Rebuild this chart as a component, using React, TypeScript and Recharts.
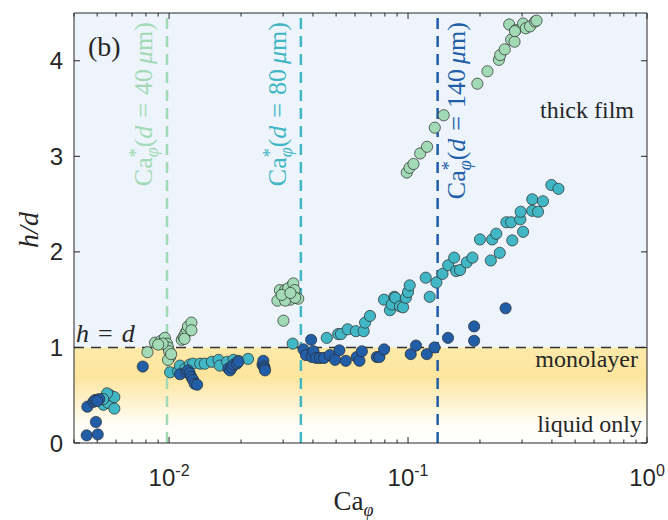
import React from 'react';
import { ScatterChart, Scatter, XAxis, YAxis, ReferenceLine, ReferenceArea } from 'recharts';

const GREEN = '#a1dab4';
const CYAN = '#41b6c4';
const BLUE = '#225ea8';
const INK = '#262626';
const SERIF = '"Liberation Serif", "Times New Roman", serif';
const SANS = '"Liberation Sans", Arial, sans-serif';

// d = 40 µm
const d40Ca = [0.00812, 0.00873, 0.00926, 0.0096, 0.0098, 0.0099, 0.01, 0.0101, 0.0099, 0.0094, 0.009, 0.0102,
  0.0113, 0.0115, 0.0117, 0.0119, 0.012, 0.0124, 0.0124, 0.0116,
  0.0291, 0.0284, 0.0306, 0.0315, 0.0331, 0.0335, 0.0347, 0.0321, 0.0306, 0.0337, 0.0296, 0.0322, 0.0301,
  0.0988, 0.1014, 0.1054, 0.1124, 0.1201, 0.1294, 0.141, 0.195, 0.215, 0.24, 0.243, 0.254, 0.27, 0.279, 0.265,
  0.282, 0.303, 0.311, 0.324, 0.34, 0.345, 0.28];
const d40H = [0.95, 1.05, 1.07, 1.1, 1.04, 1.0, 0.96, 0.9, 0.87, 1.04, 1.03, 0.93,
  1.08, 1.11, 1.15, 1.18, 1.22, 1.26, 1.18, 1.09,
  1.6, 1.49, 1.6, 1.62, 1.67, 1.6, 1.51, 1.5, 1.49, 1.52, 1.55, 1.57, 1.28,
  2.83, 2.88, 2.92, 3.03, 3.1, 3.3, 3.43, 3.76, 3.89, 4.01, 4.06, 4.12, 4.22, 4.2, 4.38,
  4.32, 4.39, 4.34, 4.36, 4.41, 4.42, 4.31];

// d = 80 µm
const d80Ca = [0.00531, 0.00549, 0.00557, 0.00567, 0.0059, 0.0059, 0.0055, 0.0053,
  0.0101, 0.0109, 0.0111, 0.0117, 0.0122, 0.0126, 0.0135, 0.0141, 0.0151, 0.0161, 0.0163, 0.0175, 0.0186, 0.0195, 0.0214,
  0.0329, 0.0457, 0.051, 0.0524, 0.0559, 0.0605, 0.0652, 0.0661, 0.0693, 0.0793, 0.084, 0.0855, 0.0876, 0.0884,
  0.0925, 0.0953, 0.0979, 0.1, 0.1016, 0.1186, 0.1232, 0.1314, 0.1394, 0.1472, 0.156, 0.159, 0.165, 0.176, 0.186,
  0.2, 0.222, 0.225, 0.234, 0.242, 0.258, 0.27, 0.273, 0.295, 0.296, 0.303, 0.331, 0.331, 0.35, 0.367, 0.398, 0.426];
const d80H = [0.4, 0.48, 0.42, 0.5, 0.48, 0.36, 0.52, 0.46,
  0.74, 0.75, 0.81, 0.78, 0.82, 0.83, 0.83, 0.83, 0.85, 0.87, 0.81, 0.85, 0.87, 0.86, 0.88,
  1.04, 1.1, 1.14, 1.14, 1.19, 1.17, 1.17, 1.26, 1.33, 1.5, 1.39, 1.45, 1.53, 1.52,
  1.43, 1.42, 1.52, 1.58, 1.65, 1.73, 1.53, 1.68, 1.77, 1.86, 1.94, 1.8, 1.81, 1.89, 1.94,
  2.13, 1.91, 2.13, 2.19, 1.99, 2.31, 2.31, 2.12, 2.34, 2.42, 2.21, 2.55, 2.43, 2.42, 2.53, 2.7, 2.66];

// d = 140 µm
const d140Ca = [0.00452, 0.00503, 0.00494, 0.00455, 0.00482, 0.0049, 0.0051, 0.005, 0.00776,
  0.0111, 0.0118, 0.012, 0.0122, 0.0124, 0.0126, 0.0128, 0.0131,
  0.0177, 0.018, 0.0183, 0.0186, 0.0192, 0.0195, 0.0246, 0.0248, 0.025, 0.0251, 0.0252,
  0.0365, 0.0374, 0.0393, 0.0396, 0.0402, 0.0413, 0.0428, 0.0445, 0.0471, 0.0495, 0.0516, 0.0549,
  0.061, 0.0626, 0.0641, 0.074, 0.0759, 0.0794, 0.1026, 0.108, 0.1198, 0.129, 0.147, 0.189, 0.189, 0.256];
const d140H = [0.08, 0.09, 0.22, 0.38, 0.43, 0.45, 0.46, 0.44, 0.8,
  0.72, 0.74, 0.76, 0.73, 0.69, 0.66, 0.62, 0.61,
  0.78, 0.76, 0.79, 0.82, 0.83, 0.85, 0.82, 0.86, 0.8, 0.78, 0.76,
  0.98, 0.92, 1.08, 0.9, 0.96, 0.89, 0.89, 0.89, 0.92, 0.87, 0.97, 0.86,
  0.9, 0.86, 0.96, 0.9, 0.9, 0.98, 0.93, 1.02, 0.93, 1.0, 1.1, 1.22, 1.07, 1.41];

// critical capillary numbers Ca*_phi for d = 40, 80, 140 µm
const caStar = [0.0098, 0.0356, 0.133];
const caStarD = ['40', '80', '140'];
const caStarColor = [GREEN, CYAN, BLUE];
const caStarLabelDx = [-15, -15, 27];

const xTicks = [0.004, 0.005, 0.006, 0.007, 0.008, 0.009, 0.01, 0.02, 0.03, 0.04, 0.05, 0.06, 0.07, 0.08, 0.09,
  0.1, 0.2, 0.3, 0.4, 0.5, 0.6, 0.7, 0.8, 0.9, 1];
const yTicks = [0, 1, 2, 3, 4];

const toPoints = (xs: number[], ys: number[]) => xs.map((x, i) => ({ x, y: ys[i] }));
const s40 = toPoints(d40Ca, d40H);
const s80 = toPoints(d80Ca, d80H);
const s140 = toPoints(d140Ca, d140H);

const isMajor = (v: number) => Math.abs(Math.log10(v) - Math.round(Math.log10(v))) < 1e-6;

const dot = (fill: string) => (p: any) => (
  <circle cx={p.cx} cy={p.cy} r={5.6} fill={fill} stroke="#2a2a2a" strokeWidth={0.7} />
);

const BottomTick = (p: any) => {
  const v = p.payload.value;
  const major = isMajor(v);
  return (
    <g>
      <line x1={p.x} x2={p.x} y1={p.y} y2={p.y - (major ? 6 : 3.5)} stroke={INK} strokeWidth={1} />
      {major && (
        <text x={p.x} y={p.y + 43} textAnchor="middle" fontFamily={SANS} fontSize={24} fill={INK}>
          <tspan>10</tspan>
          <tspan fontSize={16} dy={-10}>{String(Math.round(Math.log10(v)))}</tspan>
        </text>
      )}
    </g>
  );
};

const TopTick = (p: any) => {
  const major = isMajor(p.payload.value);
  return <line x1={p.x} x2={p.x} y1={p.y} y2={p.y + (major ? 6 : 3.5)} stroke={INK} strokeWidth={1} />;
};

const LeftTick = (p: any) => (
  <g>
    <line x1={p.x} x2={p.x + 6} y1={p.y} y2={p.y} stroke={INK} strokeWidth={1} />
    <text x={p.x - 11} y={p.y + 8.5} textAnchor="end" fontFamily={SANS} fontSize={24} fill={INK}>
      {p.payload.value}
    </text>
  </g>
);

const RightTick = (p: any) => (
  <line x1={p.x} x2={p.x - 6} y1={p.y} y2={p.y} stroke={INK} strokeWidth={1} />
);

const CaStarLabel = (p: any) => {
  const vb = p.viewBox;
  const x = vb.x + p.dx;
  const y = vb.y + 9;
  return (
    <text transform={`translate(${x},${y}) rotate(-90)`} textAnchor="end" fill={p.color}
      fontFamily={SERIF} fontSize={26}>
      <tspan>Ca</tspan>
      <tspan fontSize={18} dy={-10}>*</tspan>
      <tspan fontSize={18} fontStyle="italic" dx={-9} dy={16}>φ</tspan>
      <tspan dy={-6}>(</tspan>
      <tspan fontStyle="italic">d</tspan>
      <tspan dx={8}>=</tspan>
      <tspan dx={8}>{p.d}</tspan>
      <tspan dx={5} fontStyle="italic">μ</tspan>
      <tspan>m)</tspan>
    </text>
  );
};

const HLineLabel = (p: any) => {
  const vb = p.viewBox;
  const x = vb.x + 2;
  const y = vb.y - 5;
  return (
    <text x={x} y={y} fontFamily={SERIF} fontSize={26} fill={INK}>
      <tspan fontStyle="italic">h</tspan>
      <tspan dx={9}>=</tspan>
      <tspan dx={9} fontStyle="italic">d</tspan>
    </text>
  );
};

const UpperLabel = (p: any) => {
  const vb = p.viewBox;
  return (
    <g>
      <text x={vb.x + 14} y={vb.y + 43} fontFamily={SERIF} fontSize={28} fill={INK}>(b)</text>
      <text x={vb.x + vb.width - 13} y={vb.y + 105} textAnchor="end" fontFamily={SERIF} fontSize={24} fill={INK}>
        thick film
      </text>
    </g>
  );
};

const LowerLabel = (p: any) => {
  const vb = p.viewBox;
  return (
    <g>
      <text x={vb.x + vb.width - 9} y={vb.y + 20} textAnchor="end" fontFamily={SERIF} fontSize={24} fill={INK}>
        monolayer
      </text>
      <text x={vb.x + vb.width - 5} y={vb.y + 85} textAnchor="end" fontFamily={SERIF} fontSize={24} fill={INK}>
        liquid only
      </text>
    </g>
  );
};

const XLabel = (p: any) => {
  const vb = p.viewBox;
  return (
    <text x={vb.x + vb.width / 2 - 7} y={vb.y + 67} textAnchor="middle" fontFamily={SERIF} fontSize={27} fill={INK}>
      <tspan>Ca</tspan>
      <tspan fontSize={18} fontStyle="italic" dy={6}>φ</tspan>
    </text>
  );
};

const YLabel = (p: any) => {
  const vb = p.viewBox;
  const x = 38;
  const y = vb.y + vb.height / 2 + 2;
  return (
    <text transform={`translate(${x},${y}) rotate(-90)`} textAnchor="middle" fontFamily={SERIF} fontSize={28}
      fontStyle="italic" fill={INK}>
      h/d
    </text>
  );
};

export default function App() {
  return (
    <div style={{ position: 'absolute', left: 0, top: 0, background: '#fff' }}>
      <ScatterChart width={668} height={520} margin={{ top: 12, right: 20, bottom: 37, left: 14 }}>
        <defs>
          <linearGradient id="monoGrad" x1="0" y1="0" x2="0" y2="1">
            <stop offset="0" stopColor="#fdeaaa" />
            <stop offset="0.3" stopColor="#fde59d" />
            <stop offset="0.8" stopColor="#fffdf6" />
            <stop offset="1" stopColor="#ffffff" />
          </linearGradient>
        </defs>
        <ReferenceArea xAxisId="b" yAxisId="l" y1={1} y2={4.5} fill="#edf4fc" fillOpacity={1} stroke="none"
          ifOverflow="visible" label={<UpperLabel />} />
        <ReferenceArea xAxisId="b" yAxisId="l" y1={0} y2={1} fill="url(#monoGrad)" fillOpacity={1} stroke="none"
          ifOverflow="visible" label={<LowerLabel />} />
        <XAxis xAxisId="b" dataKey="x" type="number" scale="log" domain={[0.004, 1]} allowDataOverflow
          ticks={xTicks} interval={0} tickSize={0} tickMargin={0} tickLine={false} height={40}
          axisLine={{ stroke: INK, strokeWidth: 1 }} tick={<BottomTick />} label={<XLabel />} />
        <XAxis xAxisId="t" orientation="top" dataKey="x" type="number" scale="log" domain={[0.004, 1]} allowDataOverflow
          ticks={xTicks} interval={0} tickSize={0} tickMargin={0} tickLine={false} height={1}
          axisLine={{ stroke: INK, strokeWidth: 1 }} tick={<TopTick />} />
        <YAxis yAxisId="l" dataKey="y" type="number" domain={[0, 4.5]} allowDataOverflow ticks={yTicks} interval={0}
          tickSize={0} tickMargin={0} tickLine={false} width={60}
          axisLine={{ stroke: INK, strokeWidth: 1 }} tick={<LeftTick />} label={<YLabel />} />
        <YAxis yAxisId="r" orientation="right" dataKey="y" type="number" domain={[0, 4.5]} allowDataOverflow
          ticks={yTicks} interval={0} tickSize={0} tickMargin={0} tickLine={false} width={1}
          axisLine={{ stroke: INK, strokeWidth: 1 }} tick={<RightTick />} />
        <ReferenceLine xAxisId="b" yAxisId="l" y={1} stroke="#333" strokeWidth={1.5} strokeDasharray="10 7"
          label={<HLineLabel />} />
        {caStar.map((c, i) => (
          <ReferenceLine key={i} xAxisId="b" yAxisId="l" x={c} stroke={caStarColor[i]} strokeWidth={2.5}
            strokeDasharray="11 7"
            label={<CaStarLabel color={caStarColor[i]} d={caStarD[i]} dx={caStarLabelDx[i]} />} />
        ))}
        <Scatter xAxisId="b" yAxisId="l" data={s40} fill={GREEN} shape={dot(GREEN)} isAnimationActive={false} />
        <Scatter xAxisId="b" yAxisId="l" data={s80} fill={CYAN} shape={dot(CYAN)} isAnimationActive={false} />
        <Scatter xAxisId="b" yAxisId="l" data={s140} fill={BLUE} shape={dot(BLUE)} isAnimationActive={false} />
      </ScatterChart>
    </div>
  );
}
